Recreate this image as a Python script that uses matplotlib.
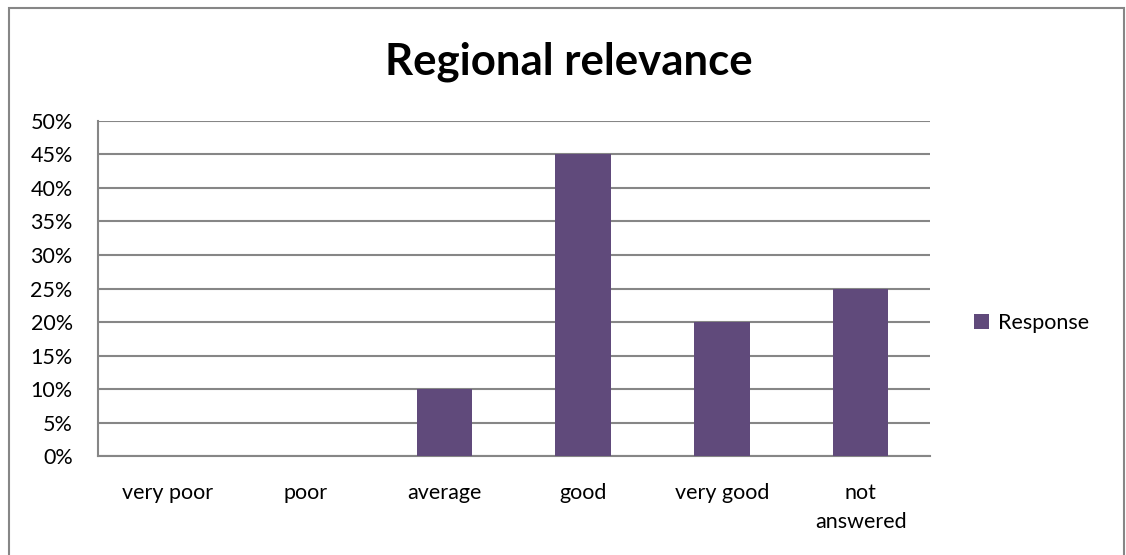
import matplotlib.pyplot as plt
import numpy as np
from matplotlib.patches import Rectangle

plt.rcParams['font.family'] = ['Lato', 'DejaVu Sans']

# --- data ---
categories = ["very poor", "poor", "average", "good", "very good", "not\nanswered"]
response = [0, 0, 10, 45, 20, 25]
y_ticks = [0, 5, 10, 15, 20, 25, 30, 35, 40, 45, 50]

BAR_COLOR = "#604A7B"
GRID_COLOR = "#868686"

fig = plt.figure(figsize=(11.26, 5.55), dpi=100)
ax = fig.add_axes([0.0868, 0.1775, 0.7391, 0.605])

x = np.arange(len(categories))
ax.bar(x, response, width=0.40, color=BAR_COLOR, label="Response", zorder=3)

ax.set_xlim(-0.5, len(categories) - 0.5)
ax.set_ylim(0, 50)
ax.set_yticks(y_ticks)
ax.set_yticklabels([f"{v}%" for v in y_ticks], fontsize=15.5)
ax.set_xticks(x)
ax.set_xticklabels(categories, fontsize=15.5, linespacing=1.6)
ax.tick_params(axis="y", length=0, pad=18)
ax.tick_params(axis="x", length=0, pad=19)

ax.grid(axis="y", color=GRID_COLOR, linewidth=1.5, zorder=0)
for side in ["top", "right"]:
    ax.spines[side].set_visible(False)
for side in ["left", "bottom"]:
    ax.spines[side].set_color(GRID_COLOR)
    ax.spines[side].set_linewidth(1.5)

fig.text(0.505, 0.889, "Regional relevance", ha="center", va="center",
         fontsize=31.5, fontweight="bold")

leg = ax.legend(loc="center left", bbox_to_anchor=(1.03, 0.397), frameon=False,
                fontsize=15.5, handlelength=0.7, handleheight=0.7, handletextpad=0.4)

# outer chart border
fig.patches.append(Rectangle((9 / 1126, -0.05), (1124 - 9) / 1126, 1.05 - 8 / 555,
                             transform=fig.transFigure, fill=False,
                             edgecolor=GRID_COLOR, linewidth=1.5))

fig.savefig("out.png", dpi=100)
